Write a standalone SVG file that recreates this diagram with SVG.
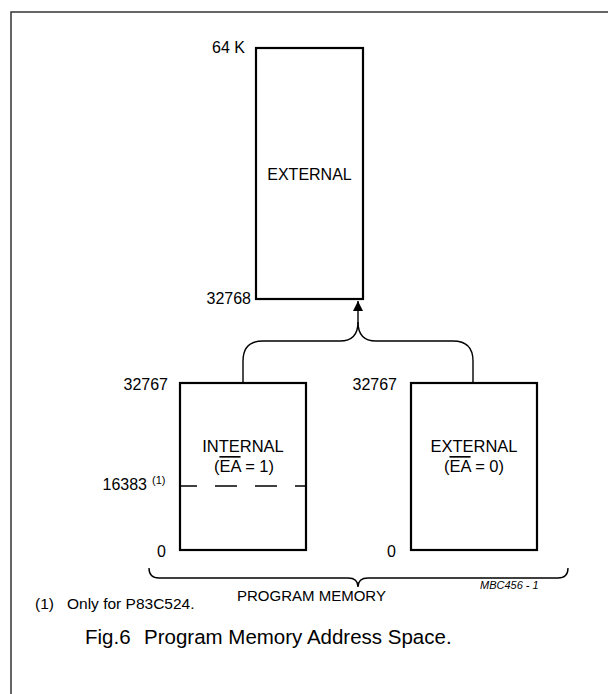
<svg xmlns="http://www.w3.org/2000/svg" width="608" height="694" viewBox="0 0 608 694">
<style>
  text { font-family: "Liberation Sans", Arial, sans-serif; fill: #000; }
  .lbl { font-size: 16px; }
  .mid { text-anchor: middle; }
  .end { text-anchor: end; }
  .box { fill: #fff; stroke: #000; stroke-width: 2.2; }
  .conn { fill: none; stroke: #000; stroke-width: 1.4; }
  .ol { text-decoration: overline; }
</style>
<defs>
  <marker id="arrow" viewBox="0 0 10 10" refX="10" refY="5" markerWidth="10" markerHeight="11" markerUnits="userSpaceOnUse" orient="auto">
    <path d="M0,0 L10,5 L0,10 z" fill="#000"/>
  </marker>
</defs>
<rect width="608" height="694" fill="#fff"/>
<path d="M 11 694 V 12 H 608" fill="none" stroke="#333" stroke-width="1.5"/>

<g id="connectors">
  <path class="conn" d="M 473 383 V 361 Q 473 341 453 341 H 376 Q 358 341 358 322"/>
  <path class="conn" d="M 243 383 V 361 Q 243 341 263 341 H 340 Q 358 341 358 322 V 301" marker-end="url(#arrow)"/>
</g>

<g id="external-top">
  <rect class="box" x="256" y="48" width="107" height="251"/>
  <text class="lbl mid" x="309.5" y="180">EXTERNAL</text>
  <text class="lbl end" x="245" y="53">64 K</text>
  <text class="lbl end" x="251" y="304">32768</text>
</g>

<g id="internal">
  <rect class="box" x="180" y="383" width="126" height="167"/>
  <line x1="180" y1="486" x2="306" y2="486" stroke="#000" stroke-width="1.5" stroke-dasharray="22 18" stroke-dashoffset="5"/>
  <text x="243" y="452" class="mid" font-size="16.5">INTERNAL</text>
  <text x="244" y="472" class="mid" font-size="16.5">(<tspan class="ol">EA</tspan> = 1)</text>
  <text class="lbl end" x="168" y="390">32767</text>
  <text class="lbl end" x="147" y="490">16383</text>
  <text x="152" y="484" font-size="11">(1)</text>
  <text class="lbl" x="157" y="557">0</text>
</g>

<g id="external-bottom">
  <rect class="box" x="411" y="383" width="126" height="167"/>
  <text x="474" y="452" class="mid" font-size="16.5">EXTERNAL</text>
  <text x="474" y="472" class="mid" font-size="16.5">(<tspan class="ol">EA</tspan> = 0)</text>
  <text class="lbl end" x="397" y="390">32767</text>
  <text class="lbl" x="387" y="557">0</text>
</g>

<g id="program-memory">
  <path class="conn" d="M 149 568 Q 149 578 159 578 H 348 Q 358 578 358 587 Q 358 578 368 578 H 558 Q 568 578 568 568"/>
  <text x="237" y="601" font-size="15">PROGRAM MEMORY</text>
  <text x="480" y="589" font-size="11" font-style="italic">MBC456 - 1</text>
</g>

<g id="notes">
  <text x="35" y="609" font-size="15.5">(1)</text>
  <text x="67" y="609" font-size="15.5">Only for P83C524.</text>
  <text x="85" y="644" font-size="20.5">Fig.6</text>
  <text x="144" y="644" font-size="20.5">Program Memory Address Space.</text>
</g>
</svg>
